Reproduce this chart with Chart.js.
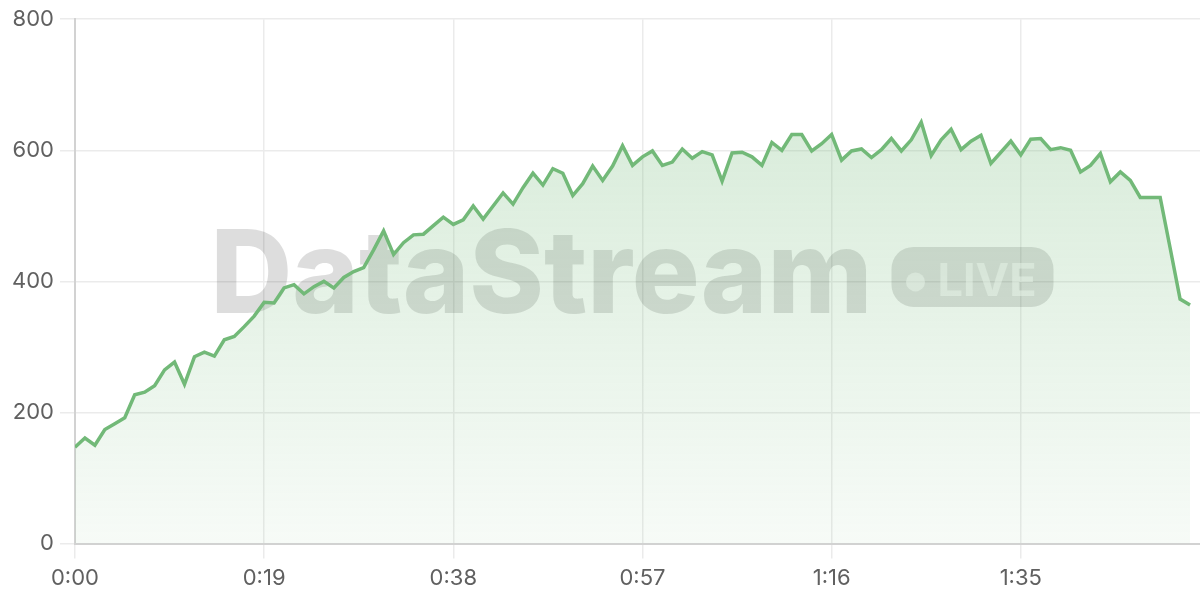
<!DOCTYPE html>
<html>
<head>
<meta charset="utf-8">
<script src="https://cdn.jsdelivr.net/npm/chart.js@4.4.1/dist/chart.umd.min.js"></script>
<style>
  html, body { margin: 0; padding: 0; background: #ffffff; }
  #wrap { width: 1200px; height: 600px; position: relative; }
</style>
</head>
<body>
<div id="wrap"><canvas id="c" width="1200" height="600"></canvas></div>
<script>
// Elapsed seconds (one sample per second)
const seconds = [
  0,1,2,3,4,5,6,7,8,9,10,11,12,13,14,15,16,17,18,19,20,21,22,23,24,25,26,27,28,29,
  30,31,32,33,34,35,36,37,38,39,40,41,42,43,44,45,46,47,48,49,50,51,52,53,54,55,56,57,58,59,
  60,61,62,63,64,65,66,67,68,69,70,71,72,73,74,75,76,77,78,79,80,81,82,83,84,85,86,87,88,89,
  90,91,92,93,94,95,96,97,98,99,100,101,102,103,104,105,106,107,108,109,110,111,112
];
// Throughput values
const values = [
  147,161,150,174,183,192,227,231,241,265,277,243,285,292,286,311,316,331,347,368,
  367,390,395,381,392,400,390,406,415,421,448,477,441,459,471,472,485,498,487,494,
  515,495,515,535,518,543,565,547,572,565,531,549,576,554,576,607,577,590,599,577,
  582,602,588,598,593,553,596,597,590,577,612,600,624,624,599,610,624,585,599,602,
  589,601,618,599,616,643,592,616,632,601,614,623,580,597,614,593,617,618,601,604,
  600,567,577,595,552,567,554,528,528,528,451,373,364
];
const xTickSeconds = [0, 19, 38, 57, 76, 95];
const yTicks = [0, 200, 400, 600, 800];
const watermarkText = 'DataStream';
const badgeText = 'LIVE';

function fmt(s) {
  const m = Math.floor(s / 60);
  const r = Math.round(s % 60);
  return m + ':' + (r < 10 ? '0' : '') + r;
}

const points = seconds.map((s, i) => ({ x: s, y: values[i] }));

const watermark = {
  id: 'watermark',
  beforeDatasetsDraw(chart) {
    const { ctx, chartArea } = chart;
    const cx = (chartArea.left + chartArea.right) / 2;
    const cy = (chartArea.top + chartArea.bottom) / 2;
    ctx.save();
    ctx.font = '800 115px Inter, "Open Sans", sans-serif';
    ctx.textAlign = 'left';
    ctx.textBaseline = 'alphabetic';
    ctx.fillStyle = 'rgba(0,0,0,0.135)';
    const target = 662;
    const w = ctx.measureText(watermarkText).width;
    const sx = target / w;
    ctx.save();
    ctx.translate(cx - 427, cy + 31.5);
    ctx.scale(sx, 1);
    ctx.fillText(watermarkText, 0, 0);
    ctx.restore();
    // pill
    const px = cx + 254, py = cy - 34.5, pw = 162, ph = 60, r = 22;
    ctx.beginPath();
    ctx.moveTo(px + r, py);
    ctx.lineTo(px + pw - r, py);
    ctx.arcTo(px + pw, py, px + pw, py + r, r);
    ctx.lineTo(px + pw, py + ph - r);
    ctx.arcTo(px + pw, py + ph, px + pw - r, py + ph, r);
    ctx.lineTo(px + r, py + ph);
    ctx.arcTo(px, py + ph, px, py + ph - r, r);
    ctx.lineTo(px, py + r);
    ctx.arcTo(px, py, px + r, py, r);
    ctx.closePath();
    ctx.fillStyle = 'rgba(0,0,0,0.13)';
    ctx.fill();
    ctx.fillStyle = 'rgba(255,255,255,0.55)';
    ctx.beginPath();
    ctx.arc(cx + 278, cy + 0.5, 9.5, 0, Math.PI * 2);
    ctx.fill();
    ctx.font = '700 45px Inter, "Open Sans", sans-serif';
    ctx.fillText(badgeText, cx + 300, cy + 15);
    ctx.restore();
  }
};

new Chart(document.getElementById('c'), {
  type: 'line',
  data: {
    datasets: [{
      data: points,
      borderColor: 'rgb(114,185,120)',
      borderWidth: 3.5,
      pointRadius: 0,
      tension: 0,
      fill: 'origin',
      backgroundColor(context) {
        const { chart } = context;
        const area = chart.chartArea;
        if (!area) return 'rgba(114,185,120,0.15)';
        const g = chart.ctx.createLinearGradient(0, area.top, 0, area.bottom);
        g.addColorStop(0, 'rgba(114,185,120,0.32)');
        g.addColorStop(1, 'rgba(114,185,120,0.06)');
        return g;
      }
    }]
  },
  options: {
    responsive: false,
    animation: false,
    layout: { padding: { left: 6, right: 0, top: 10, bottom: 1 } },
    plugins: { legend: { display: false }, tooltip: { enabled: false } },
    scales: {
      x: {
        type: 'linear',
        min: 0,
        max: 113,
        afterBuildTicks(scale) {
          scale.ticks = xTickSeconds.map(v => ({ value: v }));
        },
        ticks: {
          callback: v => fmt(v),
          color: '#606060',
          font: { family: 'Inter', size: 22 },
          padding: 7,
          maxRotation: 0,
          autoSkip: false
        },
        grid: { color: '#ebebeb', lineWidth: 1.5, tickLength: 15 },
        border: { color: '#d2d2d2', width: 2 }
      },
      y: {
        min: 0,
        max: 800,
        afterBuildTicks(scale) {
          scale.ticks = yTicks.map(v => ({ value: v }));
        },
        ticks: {
          color: '#606060',
          font: { family: 'Inter', size: 22 },
          padding: 6
        },
        grid: { color: '#ebebeb', lineWidth: 1.5, tickLength: 15 },
        border: { color: '#d2d2d2', width: 2 }
      }
    }
  },
  plugins: [watermark]
});
</script>
</body>
</html>
